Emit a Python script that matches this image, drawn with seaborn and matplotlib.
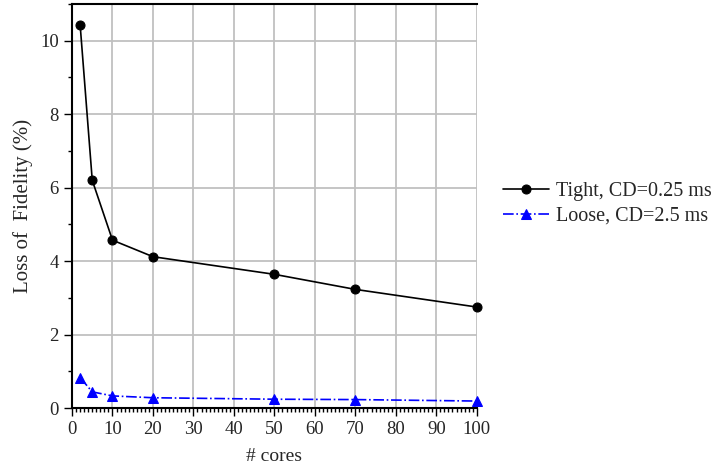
import matplotlib
matplotlib.use("Agg")
import matplotlib.pyplot as plt
from matplotlib.ticker import MultipleLocator
import pandas as pd
import seaborn as sns

# data
cores = [2, 5, 10, 20, 50, 70, 100]
tight = [10.44, 6.2, 4.57, 4.12, 3.64, 3.23, 2.75]
loose = [0.83, 0.44, 0.33, 0.28, 0.24, 0.23, 0.19]

sns.set_style("white")
plt.rcParams['font.family'] = ['Liberation Serif', 'DejaVu Serif']

df_t = pd.DataFrame({'cores': cores, 'loss': tight})
df_l = pd.DataFrame({'cores': cores, 'loss': loose})

fig = plt.figure(figsize=(7.18, 4.69), dpi=100)
ax = fig.add_axes([0.1003, 0.130, 0.5637, 0.8615])

sns.lineplot(data=df_t, x='cores', y='loss', ax=ax, color='black', marker='o',
             markersize=6.5, markeredgecolor='black', linewidth=1.2,
             label='Tight, CD=0.25 ms', zorder=3, clip_on=False)
sns.lineplot(data=df_l, x='cores', y='loss', ax=ax, color='blue', marker='^',
             markersize=6.5, markeredgecolor='blue', linewidth=1.2, linestyle='-.',
             label='Loose, CD=2.5 ms', zorder=3, clip_on=False)

ax.set_xlim(0, 100)
ax.set_ylim(0, 11)
ax.xaxis.set_major_locator(MultipleLocator(10))
ax.xaxis.set_minor_locator(MultipleLocator(1))
ax.yaxis.set_major_locator(MultipleLocator(2))
ax.yaxis.set_minor_locator(MultipleLocator(1))
ax.grid(True, which='major', color='#c0c0c0', linewidth=1.3, zorder=0)
ax.set_axisbelow(True)

for s in ['left', 'bottom', 'top']:
    ax.spines[s].set_color('black')
    ax.spines[s].set_linewidth(1.5)
ax.spines['right'].set_visible(False)

ax.tick_params(axis='both', which='major', direction='out', length=6, width=1,
               labelsize=13.5, bottom=True, left=True, color='black')
ax.tick_params(axis='both', which='minor', direction='out', length=3, width=1,
               bottom=True, left=True, color='black')

ax.set_xlabel('# cores', fontsize=14, labelpad=7)
ax.set_ylabel('Loss of  Fidelity (%)', fontsize=15, labelpad=5)

ax.legend(loc='center left', bbox_to_anchor=(1.064, 0.505), frameon=False,
          fontsize=14.5, handlelength=2.3, handletextpad=0.36, labelspacing=0.25,
          borderpad=0, borderaxespad=0)

fig.savefig('out.png', dpi=100)
